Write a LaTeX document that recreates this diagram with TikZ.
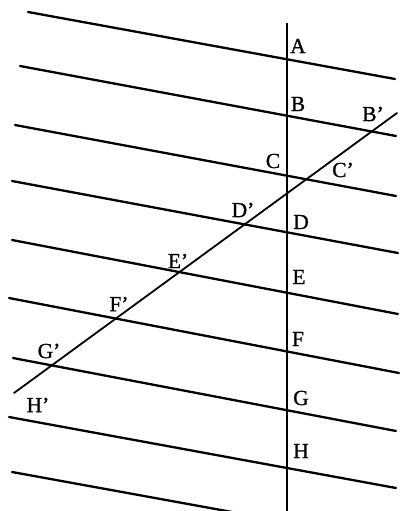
\documentclass[tikz,border=0pt]{standalone}
\usepackage{fontspec}
\setmainfont{Liberation Serif}
\newfontfamily\labfont[FakeBold=0.9]{Liberation Serif}
\begin{document}
\begin{tikzpicture}[x=1pt,y=-1pt,
  pline/.style={line width=2.3pt,line cap=round},
  vline/.style={line width=2.4pt},
  dline/.style={line width=1.8pt,line cap=round},
  lab/.style={inner sep=0pt,font=\labfont\fontsize{21.5}{21.5}\selectfont}]
\useasboundingbox (0,0) rectangle (402,511);
% parallel lines endpoints
\coordinate (l1a) at (28,12);  \coordinate (l1b) at (395,79);
\coordinate (l2a) at (20,66);  \coordinate (l2b) at (396,136);
\coordinate (l3a) at (15,125); \coordinate (l3b) at (396,196);
\coordinate (l4a) at (12,181); \coordinate (l4b) at (398,253);
\coordinate (l5a) at (12,240); \coordinate (l5b) at (398,314);
\coordinate (l6a) at (9,298);  \coordinate (l6b) at (399,373);
\coordinate (l7a) at (13,358); \coordinate (l7b) at (396,431);
\coordinate (l8a) at (9,417);  \coordinate (l8b) at (396,488);
\coordinate (l9a) at (12,472); \coordinate (l9b) at (232,512);
\coordinate (vt) at (287,23);  \coordinate (vb) at (287,512);
\coordinate (dt) at (397,113); \coordinate (db) at (14,393);
\foreach \i in {1,...,9}{\draw[pline] (l\i a) -- (l\i b);}
\draw[vline] (vt) -- (vb);
\draw[dline] (db) -- (dt);
% labels
\node[lab] (A) at (298,46) {A};
\node[lab] (B) at (298,104) {B};
\node[lab] (Bp) at (373,114) {B’};
\node[lab] (C) at (273,161) {C};
\node[lab] (Cp) at (343,170) {C’};
\node[lab] (Dp) at (243,210) {D’};
\node[lab] (D) at (301,222) {D};
\node[lab] (Ep) at (178,261) {E’};
\node[lab] (E) at (299,277) {E};
\node[lab] (Fp) at (119,304) {F’};
\node[lab] (F) at (298,339) {F};
\node[lab] (Gp) at (49,351) {G’};
\node[lab] (G) at (301,398) {G};
\node[lab] (Hp) at (38,405) {H’};
\node[lab] (H) at (301,451) {H};
\end{tikzpicture}
\end{document}
